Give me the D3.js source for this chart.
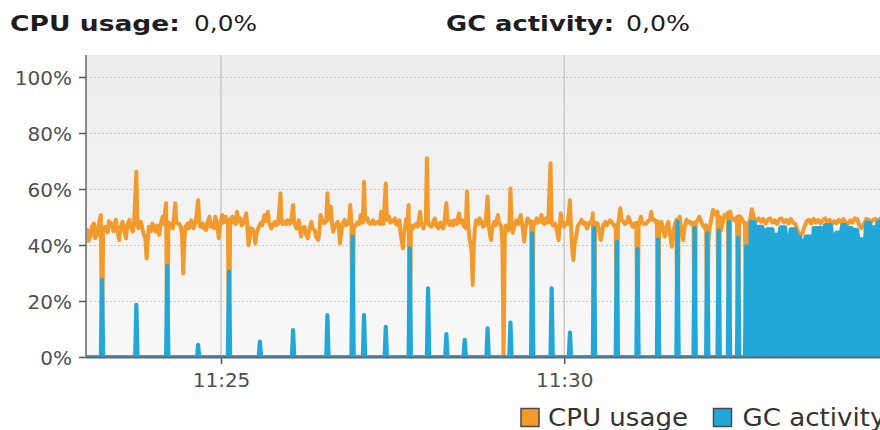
<!DOCTYPE html>
<html>
<head>
<meta charset="utf-8">
<script src="https://cdn.jsdelivr.net/npm/d3@7"></script>
<style>
  html, body { margin: 0; padding: 0; background: #ffffff; overflow: hidden; }
  svg { display: block; font-family: "DejaVu Sans", sans-serif; }
</style>
</head>
<body>
<svg id="chart" width="880" height="430"></svg>
<script>
// ---------- DATA (seconds after 11:23:00, percent) ----------
const seriesNames = ["CPU usage", "GC activity"];
const headerValues = ["0,0%", "0,0%"];
const yTickValues = [0, 20, 40, 60, 80, 100];
const xTickLabels = ["11:25", "11:30"];
const timeDomain = [2, 696];

const cpuPoints = [
[2,44.5],[3,45.4],[4,41.5],[6,43],[7,46.5],[9,47.7],[10,42.5],[12,43.6],[13,47],[15,50.7],[16,0],[17,46],[19,46.5],[21,44.5],[22,48.5],[24,47.7],[26,45],[28,49],[29,46],[31,41.8],[32,46],[34,48.3],[35,45.5],[37,42.4],[38,47],[40,49],[41,46.5],[43,44.8],[44,47.5],[46,66.2],[47,47],[48,46],[50,48.3],[51,46.5],[52,44.4],[54,42],[55,35.2],[56,42],[57,46.5],[59,45],[60,47.7],[61,46.5],[63,44.8],[64,47],[66,43.6],[67,47],[69,50.1],[70,47.5],[72,54.9],[73,0],[74,48],[75,46],[77,47.7],[78,46],[80,54.9],[81,48],[83,47.7],[85,46.5],[86,43],[87,29.9],[88,42],[89,46.5],[91,47.7],[92,46],[94,48.8],[95,47],[96,46],[98,48.5],[100,56],[101,48],[102,46.5],[104,47.7],[105,46],[107,45.4],[108,48],[110,50.1],[111,46.5],[112,47.7],[114,46],[115,50.1],[117,47],[118,42.4],[119,46.5],[121,50.7],[122,48],[124,50.1],[125,48],[126,49],[127,0],[128,49],[130,50.1],[131,48],[133,47.5],[134,51.9],[135,48.5],[137,49.5],[138,47],[140,48],[142,51.3],[143,47],[144,40],[145,42],[146,46],[148,45.4],[149,44],[150,40.6],[151,44],[153,46.5],[155,48],[156,47],[158,50.7],[159,48.5],[161,51.9],[162,48],[164,45.9],[165,47],[167,48.3],[168,47],[170,47.7],[172,58.5],[173,48],[174,47.5],[175,48.3],[177,47.5],[178,48.8],[180,47.5],[181,48],[183,54.3],[184,48],[186,45.9],[187,47],[188,48.8],[190,43],[191,46],[193,46.5],[194,44],[196,42.4],[197,45],[199,48.3],[200,46],[202,45.2],[203,43],[205,41.8],[206,45],[207,50.7],[209,48],[210,47.7],[212,48.5],[213,58.5],[214,49],[216,53.7],[217,48],[218,44.8],[220,47],[222,48.3],[223,46],[224,40.6],[225,44],[226,47.5],[228,49],[229,47],[231,47.7],[232,48.5],[233,54.3],[234,48],[235,0],[236,47],[238,46.8],[239,48],[241,47.5],[242,50.7],[244,48],[245,62.6],[246,49],[248,49.5],[249,48],[251,47.5],[253,48.8],[254,47.5],[256,48],[257,48.3],[259,47.5],[260,51.9],[261,48],[262,47.5],[264,62],[265,49],[267,50.1],[268,48],[270,48.5],[272,49.5],[273,47.5],[275,47],[276,48.8],[277,44],[279,38.8],[280,44],[282,49.5],[283,48],[284,54.3],[285,0],[286,47],[288,45.9],[289,47],[291,47.7],[292,46.5],[294,51.9],[295,48],[297,45.9],[298,47.5],[299,48],[300,71],[301,48],[302,47],[304,46.5],[305,48],[307,49.5],[308,47],[310,46],[311,47.7],[312,48],[314,45.9],[315,47],[317,54.9],[318,48],[320,47.1],[321,48.5],[323,47],[324,48.8],[326,47.5],[328,51.3],[329,48],[331,48.8],[332,47],[334,46],[335,59],[336,48],[337,43],[339,38],[340,25.7],[341,40],[342,46],[343,48.8],[345,47.5],[346,49.5],[348,48],[349,46.5],[351,47],[353,57.3],[354,47],[355,44],[356,41.8],[357,46],[359,48.3],[360,47],[362,50.7],[363,48],[365,46.5],[366,40],[367,0],[368,42],[369,47],[371,45.2],[372,47],[373,60.2],[374,47],[375,44.4],[377,47.5],[378,48.8],[380,47.5],[382,50.7],[383,48],[384,45],[385,41.2],[386,46],[388,49.5],[389,48],[391,48.5],[392,0],[393,48],[394,47.5],[396,49.5],[397,48],[399,48.5],[400,50.7],[401,48],[403,47.5],[404,49.5],[406,48],[408,69.2],[409,48],[410,47],[412,47.7],[413,46],[414,44],[415,41.8],[416,46],[417,51.3],[418,48],[420,46.5],[421,48],[423,47.5],[425,56],[426,46],[427,38],[428,34.6],[429,40],[431,44.4],[432,47],[434,48],[435,49],[437,47.5],[438,48],[440,45.9],[441,47],[442,48],[444,47.7],[445,51.3],[446,0],[447,48],[449,47.7],[450,46],[452,41.8],[453,44],[454,47],[456,48.3],[457,47],[459,48],[460,48.8],[462,48],[464,46.5],[465,47],[466,0],[467,47],[468,50],[469,53.1],[470,49],[472,48.3],[473,47.5],[475,48],[476,50.1],[478,48],[480,46.5],[481,47.5],[483,48],[484,0],[485,47],[487,50.1],[488,48],[490,47.5],[492,47.7],[493,48.5],[495,49],[496,51.9],[497,49],[499,49],[500,48],[501,48.5],[502,0],[503,48],[505,48.3],[506,46],[508,43],[509,46],[511,48.3],[512,45],[514,39.4],[515,44],[517,47.7],[518,49],[519,0],[520,49],[521,50.1],[522,46],[524,41.8],[525,46],[527,49],[528,48],[530,48.3],[531,47.5],[533,48],[534,0],[535,48],[537,49],[538,50.1],[540,48],[541,47.1],[543,46],[544,47],[545,0],[546,41.8],[547,46],[549,50],[550,52.5],[552,51],[553,50.5],[554,51.9],[555,0],[556,50],[557,45.2],[558,47],[560,50.7],[561,50],[563,51.5],[564,0],[565,52],[566,50],[568,49],[569,48.8],[571,50],[572,0],[573,50.4],[575,49.5],[577,48],[578,47.7],[579,0],[580,47.7],[582,48],[584,52.8],[586,49.5],[588,48.5],[590,49.5],[592,48.3],[594,49.3],[596,47.7],[598,49],[600,49.5],[602,48],[604,48.8],[606,47.5],[608,49.3],[610,49.5],[612,48],[614,49],[616,47.7],[618,49.3],[620,48],[622,47.5],[624,45],[626,43.6],[628,44],[630,46.5],[632,48.5],[634,49],[636,47.7],[638,49.3],[640,48],[642,49],[644,47.7],[646,48.8],[648,49.5],[650,48],[652,49],[654,47.5],[656,48.5],[658,47.7],[660,49],[662,48],[664,49.3],[666,48],[668,47.5],[670,48.8],[672,48],[674,49.5],[676,49.2],[678,47],[680,46],[682,47.5],[684,49.3],[686,49],[688,48],[690,49],[692,49.3],[694,48.5],[696,49.3]
];

const gcPoints = [
[2,0],
[15,0],[16,27.5],[17,0],
[45,0],[46,18.6],[47,0],
[72,0],[73,32.5],[74,0],
[99,0],[100,4.3],[101,0],
[126,0],[127,30.5],[128,0],
[153,0],[154,5.5],[155,0],
[182,0],[183,9.6],[184,0],
[212,0],[213,15],[214,0],
[234,0],[235,43],[236,0],
[244,0],[245,15],[246,0],
[263,0],[264,10.8],[265,0],
[284,0],[285,38.8],[286,0],
[300,0],[301,24.5],[302,0],
[316,0],[317,8.2],[318,0],
[332,0],[333,6.1],[334,0],
[352,0],[353,10.2],[354,0],
[372,0],[373,12.3],[374,0],
[391,0],[392,44.2],[393,0],
[408,0],[409,24.5],[410,0],
[424,0],[425,8.7],[426,0],
[445,0],[446,46],[447,0],
[465,0],[466,41.2],[467,0],
[483,0],[484,38.5],[485,0],
[501,0],[502,42],[503,0],
[518,0],[519,48.3],[520,0],
[533,0],[534,46],[535,0],
[544,0],[545,44.2],[546,0],
[554,0],[555,45.1],[556,0],
[563,0],[564,48.3],[565,0],
[571,0],[572,42.6],[573,0],
[578,0],[579,39.6],[580,0],
[582,0],[583,48.3],[586,48.3],[587,46.5],[588,46.5],[589,0],[590,46.5],[593,46.5],[594,44.2],[596,44.2],[597,45.6],[602,45.6],[603,0],[604,43.6],[608,43.6],[609,46.3],[613,46.3],[614,42.4],[615,42.4],[616,0],[617,42.4],[618,45.6],[622,45.6],[623,43],[626,43],[627,41.2],[630,41.2],[631,43],[636,43],[637,0],[638,46],[645,46],[646,43.6],[647,43.6],[648,47.1],[653,47.1],[654,43.6],[657,43.6],[658,44.4],[662,44.4],[663,47.1],[666,47.1],[667,46],[671,46],[672,45.4],[676,45.4],[677,41.8],[678,0],[679,42],[683,42],[684,48],[687,48],[688,46.3],[693,46.3],[694,48.3],[697,48.3]
];

// ---------- STYLE ----------
const cpuColor = "#f29a2b";
const gcColor = "#22a8d8";

const svg = d3.select("#chart");
const plot = {left: 86, right: 880, top: 55, bottom: 357};

const base = new Date(2024, 0, 1, 11, 23, 0);
const toDate = s => new Date(base.getTime() + s * 1000);
const parseHM = d3.timeParse("%H:%M");
const tickDates = xTickLabels.map(l => {
  const p = parseHM(l);
  return new Date(2024, 0, 1, p.getHours(), p.getMinutes(), 0);
});

const x = d3.scaleTime().domain(timeDomain.map(toDate)).range([plot.left, plot.right]);
const y = d3.scaleLinear().domain([0, 100]).range([357, 77]);

const defs = svg.append("defs");
const grad = defs.append("linearGradient").attr("id", "bg").attr("x1", 0).attr("y1", 0).attr("x2", 0).attr("y2", 1);
grad.append("stop").attr("offset", "0%").attr("stop-color", "#ececec");
grad.append("stop").attr("offset", "100%").attr("stop-color", "#f8f8f8");
defs.append("clipPath").attr("id", "clip").append("rect")
  .attr("x", plot.left + 1).attr("y", plot.top).attr("width", plot.right - plot.left).attr("height", plot.bottom - plot.top);

// plot background
svg.append("rect").attr("x", plot.left).attr("y", plot.top)
  .attr("width", plot.right - plot.left).attr("height", plot.bottom - plot.top)
  .attr("fill", "url(#bg)");

// horizontal dotted grid
svg.append("g").selectAll("line").data(yTickValues.filter(v => v > 0)).join("line")
  .attr("x1", plot.left).attr("x2", plot.right)
  .attr("y1", d => y(d) + 0.5).attr("y2", d => y(d) + 0.5)
  .attr("stroke", "#b8b8b8").attr("stroke-width", 1.2).attr("stroke-dasharray", "1.5,2.5");

// vertical time grid
svg.append("g").selectAll("line").data(tickDates).join("line")
  .attr("x1", d => x(d)).attr("x2", d => x(d))
  .attr("y1", plot.top).attr("y2", plot.bottom)
  .attr("stroke", "#c9c9c9").attr("stroke-width", 1.5);

const g = svg.append("g").attr("clip-path", "url(#clip)");

// CPU line
const line = d3.line().x(d => x(toDate(d[0]))).y(d => y(d[1]));
g.append("path").datum(cpuPoints).attr("d", line)
  .attr("fill", "none").attr("stroke", cpuColor).attr("stroke-width", 4)
  .attr("stroke-linejoin", "round").attr("stroke-linecap", "round");

// GC area + line
const area = d3.area().x(d => x(toDate(d[0]))).y0(y(0)).y1(d => y(d[1]));
g.append("path").datum(gcPoints).attr("d", area).attr("fill", gcColor);
g.append("path").datum(gcPoints).attr("d", line)
  .attr("fill", "none").attr("stroke", gcColor).attr("stroke-width", 4.2)
  .attr("stroke-linejoin", "round").attr("stroke-linecap", "round");

// axes
const yAxis = d3.axisLeft(y).tickValues(yTickValues).tickFormat(d => d + "%").tickSize(7).tickPadding(7).tickSizeOuter(0);
const ya = svg.append("g").attr("transform", `translate(${plot.left},0)`).call(yAxis);
ya.select(".domain").remove();
ya.selectAll(".tick line").attr("stroke", "#555").attr("stroke-width", 1.5);
ya.selectAll(".tick text").attr("fill", "#505050").attr("font-size", 20)
  .attr("font-family", "DejaVu Sans").attr("dy", "0.36em");

const xAxis = d3.axisBottom(x).tickValues(tickDates).tickFormat(d3.timeFormat("%H:%M")).tickSize(7).tickPadding(9).tickSizeOuter(0);
const xa = svg.append("g").attr("transform", `translate(0,${plot.bottom})`).call(xAxis);
xa.select(".domain").remove();
xa.selectAll(".tick line").attr("stroke", "#555").attr("stroke-width", 1.5);
xa.selectAll(".tick text").attr("fill", "#505050").attr("font-size", 20)
  .attr("font-family", "DejaVu Sans");

// axis lines
svg.append("line").attr("x1", plot.left).attr("x2", plot.left).attr("y1", plot.top).attr("y2", plot.bottom + 1)
  .attr("stroke", "#666").attr("stroke-width", 1.5);
svg.append("line").attr("x1", plot.left).attr("x2", plot.right).attr("y1", plot.bottom + 0.5).attr("y2", plot.bottom + 0.5)
  .attr("stroke", "#666").attr("stroke-width", 2);

// header
const header = [
  {label: seriesNames[0] + ":", value: headerValues[0], lx: 10, lw: 170, vx: 194, vw: 63},
  {label: seriesNames[1] + ":", value: headerValues[1], lx: 446, lw: 168, vx: 626, vw: 64}
];
header.forEach(h => {
  svg.append("text").attr("x", h.lx).attr("y", 30.5).text(h.label)
    .attr("font-size", 21.5).attr("font-weight", "bold").attr("fill", "#1e1e1e")
    .attr("textLength", h.lw).attr("lengthAdjust", "spacingAndGlyphs");
  svg.append("text").attr("x", h.vx).attr("y", 30.5).text(h.value)
    .attr("font-size", 21.5).attr("fill", "#1e1e1e")
    .attr("textLength", h.vw).attr("lengthAdjust", "spacingAndGlyphs");
});

// legend
const legend = [
  {name: seriesNames[0], color: cpuColor, bx: 521, tx: 548, tw: 140},
  {name: seriesNames[1], color: gcColor, bx: 713.5, tx: 742.5, tw: 143}
];
legend.forEach(l => {
  svg.append("rect").attr("x", l.bx).attr("y", 408.5).attr("width", 18).attr("height", 18)
    .attr("fill", l.color).attr("stroke", "#4a4a4a").attr("stroke-width", 1.5);
  svg.append("text").attr("x", l.tx).attr("y", 425.5).text(l.name)
    .attr("font-size", 24).attr("fill", "#333")
    .attr("textLength", l.tw).attr("lengthAdjust", "spacingAndGlyphs");
});
</script>
</body>
</html>
